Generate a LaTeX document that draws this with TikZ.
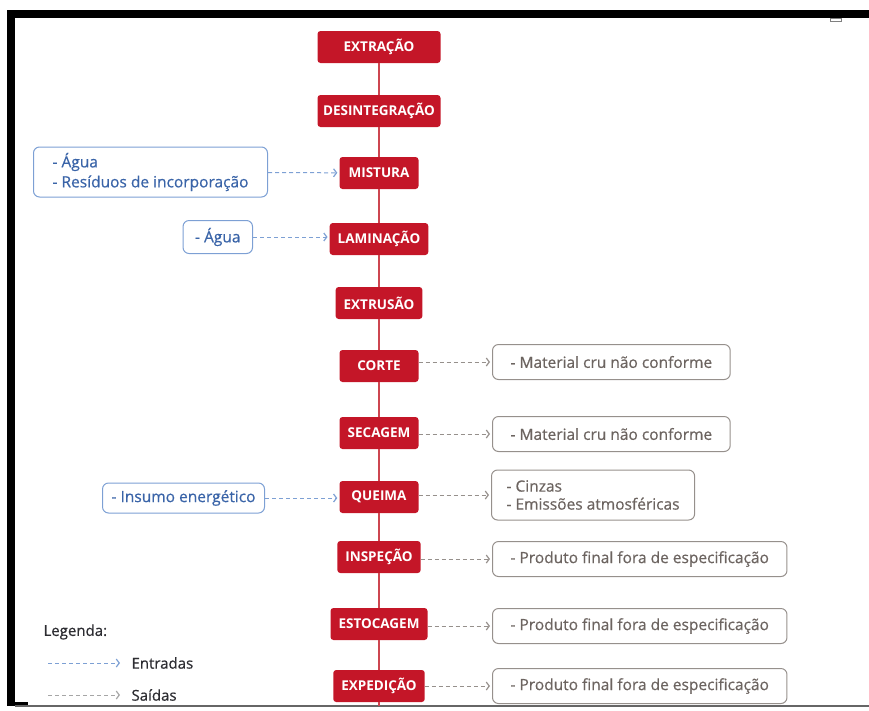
\documentclass[tikz,border=0pt]{standalone}
\usepackage{fontspec}
\setmainfont{Open Sans}
\newfontfamily\medfont{Open Sans}[FakeBold=0.6]
\usepackage{tikz}
\usetikzlibrary{positioning,arrows.meta}
\usepackage{xcolor}
\definecolor{stagered}{RGB}{196,22,40}
\definecolor{spinered}{RGB}{205,70,80}
\definecolor{inblue}{RGB}{58,100,168}
\definecolor{inedge}{RGB}{125,160,212}
\definecolor{outgray}{RGB}{108,100,96}
\definecolor{outedge}{RGB}{150,144,140}
\definecolor{legtext}{RGB}{45,45,50}

\begin{document}
\begin{tikzpicture}[
  x=1pt, y=-1pt,
  stage/.style={fill=stagered, rounded corners=3pt, text=white, font=\bfseries\fontsize{13.5}{15}\selectfont, minimum height=32pt, minimum width=79pt, inner xsep=8pt},
  inbox/.style={draw=inedge, line width=1pt, rounded corners=6pt, text=inblue, align=left, font=\medfont\fontsize{15.5}{20}\selectfont, minimum height=33pt, inner xsep=12pt},
  outbox/.style={draw=outedge, line width=1pt, rounded corners=6pt, text=outgray, align=left, font=\medfont\fontsize{15.5}{18}\selectfont, minimum height=35pt, inner xsep=18pt, anchor=west},
  inarrow/.style={draw=inedge, line width=1pt, dash pattern=on 4pt off 3pt, -{Straight Barb[length=3pt,width=8pt,line width=1.2pt]}, shorten >=2pt},
  outarrow/.style={draw=outedge, line width=1pt, dash pattern=on 4pt off 3pt, -{Straight Barb[length=3pt,width=8pt,line width=1.2pt]}, shorten >=2pt},
  legtxt/.style={anchor=west, text=legtext, font=\medfont\fontsize{15}{17}\selectfont},
  spine/.style={draw=spinered, line width=2pt}
]
\useasboundingbox (0,0) rectangle (869,710);
% frame
\fill[black] (7,10) rectangle (869,18);
\fill[black] (7,10) rectangle (15,706);
\fill[black] (15,702) rectangle (28,706);
\draw[gray!80!black, line width=1.5pt] (15,706) -- (869,706);
\draw[gray, line width=0.6pt] (830,18) rectangle (841,21);

% process steps
\node[stage, minimum width=123pt, inner xsep=3pt] (extracao) at (379,47) {EXTRAÇÃO};
\node[stage, minimum width=123pt, inner xsep=3pt] (desint) at (379,111) {DESINTEGRAÇÃO};
\node[stage] (mistura) at (379,173) {MISTURA};
\node[stage] (laminacao) at (379,239) {LAMINAÇÃO};
\node[stage] (extrusao) at (379,303) {EXTRUSÃO};
\node[stage] (corte) at (379,366) {CORTE};
\node[stage] (secagem) at (379,433) {SECAGEM};
\node[stage] (queima) at (379,497) {QUEIMA};
\node[stage] (inspecao) at (379,557) {INSPEÇÃO};
\node[stage] (estocagem) at (379,624) {ESTOCAGEM};
\node[stage] (expedicao) at (379,686) {EXPEDIÇÃO};
\coordinate (spineend) at (379,706);

\foreach \a/\b in {extracao/desint, desint/mistura, mistura/laminacao, laminacao/extrusao, extrusao/corte, corte/secagem, secagem/queima, queima/inspecao, inspecao/estocagem, estocagem/expedicao}
  \draw[spine] (\a.south) -- (\b.north);
\draw[spine] (expedicao.south) -- (spineend);

% inputs
\node[inbox, anchor=east, minimum height=50pt, inner xsep=14pt, minimum width=234pt] (inmistura) at (268,172) {- Água\\- Resíduos de incorporação};
\node[inbox, anchor=east] (inlamin) at (253,237) {- Água};
\node[inbox, anchor=east, minimum height=30pt, inner xsep=9pt] (inqueima) at (265,498) {- Insumo energético};
\draw[inarrow] (inmistura) -- (mistura);
\draw[inarrow] (inlamin.east) -- (inlamin.east -| laminacao.west);
\draw[inarrow] (inqueima.east) -- (inqueima.east -| queima.west);

% outputs
\node[outbox] (outcorte) at (492,362) {- Material cru não conforme};
\node[outbox] (outsecagem) at (492,434) {- Material cru não conforme};
\node[outbox, minimum height=50pt, inner xsep=15pt] (outqueima) at (491,495) {- Cinzas\\- Emissões atmosféricas};
\node[outbox] (outinsp) at (492,559) {- Produto final fora de especificação};
\node[outbox] (outestoc) at (492,626) {- Produto final fora de especificação};
\node[outbox] (outexped) at (492,686) {- Produto final fora de especificação};
\draw[outarrow] (corte.east |- outcorte.west) -- (outcorte.west);
\draw[outarrow] (secagem.east |- outsecagem.west) -- (outsecagem.west);
\draw[outarrow] (queima.east |- outqueima.west) -- (outqueima.west);
\draw[outarrow] (inspecao.east |- outinsp.west) -- (outinsp.west);
\draw[outarrow] (estocagem.east |- outestoc.west) -- (outestoc.west);
\draw[outarrow] (expedicao.east |- outexped.west) -- (outexped.west);

% legend
\node[legtxt] (legenda) at (40,632) {Legenda:};
\node[legtxt] (entradas) at (128,663) {Entradas};
\node[legtxt] (saidas) at (128,695) {Saídas};
\coordinate (entstart) at (48,663);
\coordinate (saistart) at (48,695);
\draw[inarrow, shorten >=8pt] (entstart) -- (entradas.west);
\draw[outarrow, draw=gray!70, shorten >=8pt] (saistart) -- (saidas.west);
\end{tikzpicture}
\end{document}
